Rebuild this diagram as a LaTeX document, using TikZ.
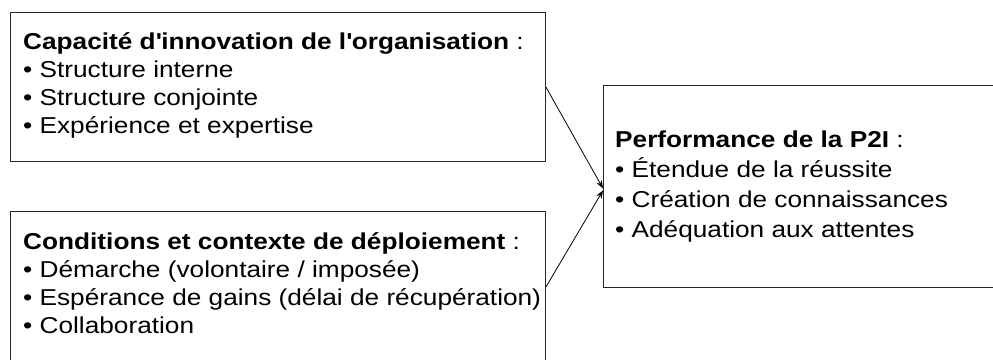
\documentclass[tikz,border=0pt]{standalone}
\usepackage{fontspec}
\setmainfont{Liberation Sans}[FakeStretch=1.14]
\usetikzlibrary{arrows.meta}
\begin{document}
\begin{tikzpicture}[x=1pt,y=-1pt,
  box/.style={draw=black!85, line width=0.9pt, rectangle, inner sep=0pt, anchor=north west},
  txt/.style={inner sep=0pt, anchor=base west, align=left, font=\fontsize{23}{28}\selectfont},
  arr/.style={draw=black, line width=0.8pt, -{Stealth[length=8pt,width=6pt]}}]
\useasboundingbox (0,0) rectangle (993,359);
\fill[white] (0,0) rectangle (993,359);
\node[box, minimum width=535pt, minimum height=149pt] (b1) at (10,12) {};
\node[box, minimum width=535pt, minimum height=160pt] (b2) at (10,211) {};
\node[box, minimum width=400pt, minimum height=202pt] (b3) at (603,85) {};
\node[txt] (t1) at (23,133) {\textbf{Capacité d\textquotesingle innovation de l\textquotesingle organisation} :\\
• Structure interne\\
• Structure conjointe\\
• Expérience et expertise};
\node[txt] (t2) at (23,333) {\textbf{Conditions et contexte de déploiement} :\\
• Démarche (volontaire / imposée)\\
• Espérance de gains (délai de récupération)\\
• Collaboration};
\node[txt, font=\fontsize{23}{30}\selectfont] (t3) at (615,237) {\textbf{Performance de la P2I} :\\
• Étendue de la réussite\\
• Création de connaissances\\
• Adéquation aux attentes};
\draw[arr] ([yshift=-75pt]b1.north east) -- ([yshift=-2pt]b3.west);
\draw[arr] ([yshift=-76pt]b2.north east) -- ([yshift=-4pt]b3.west);
\end{tikzpicture}
\end{document}
